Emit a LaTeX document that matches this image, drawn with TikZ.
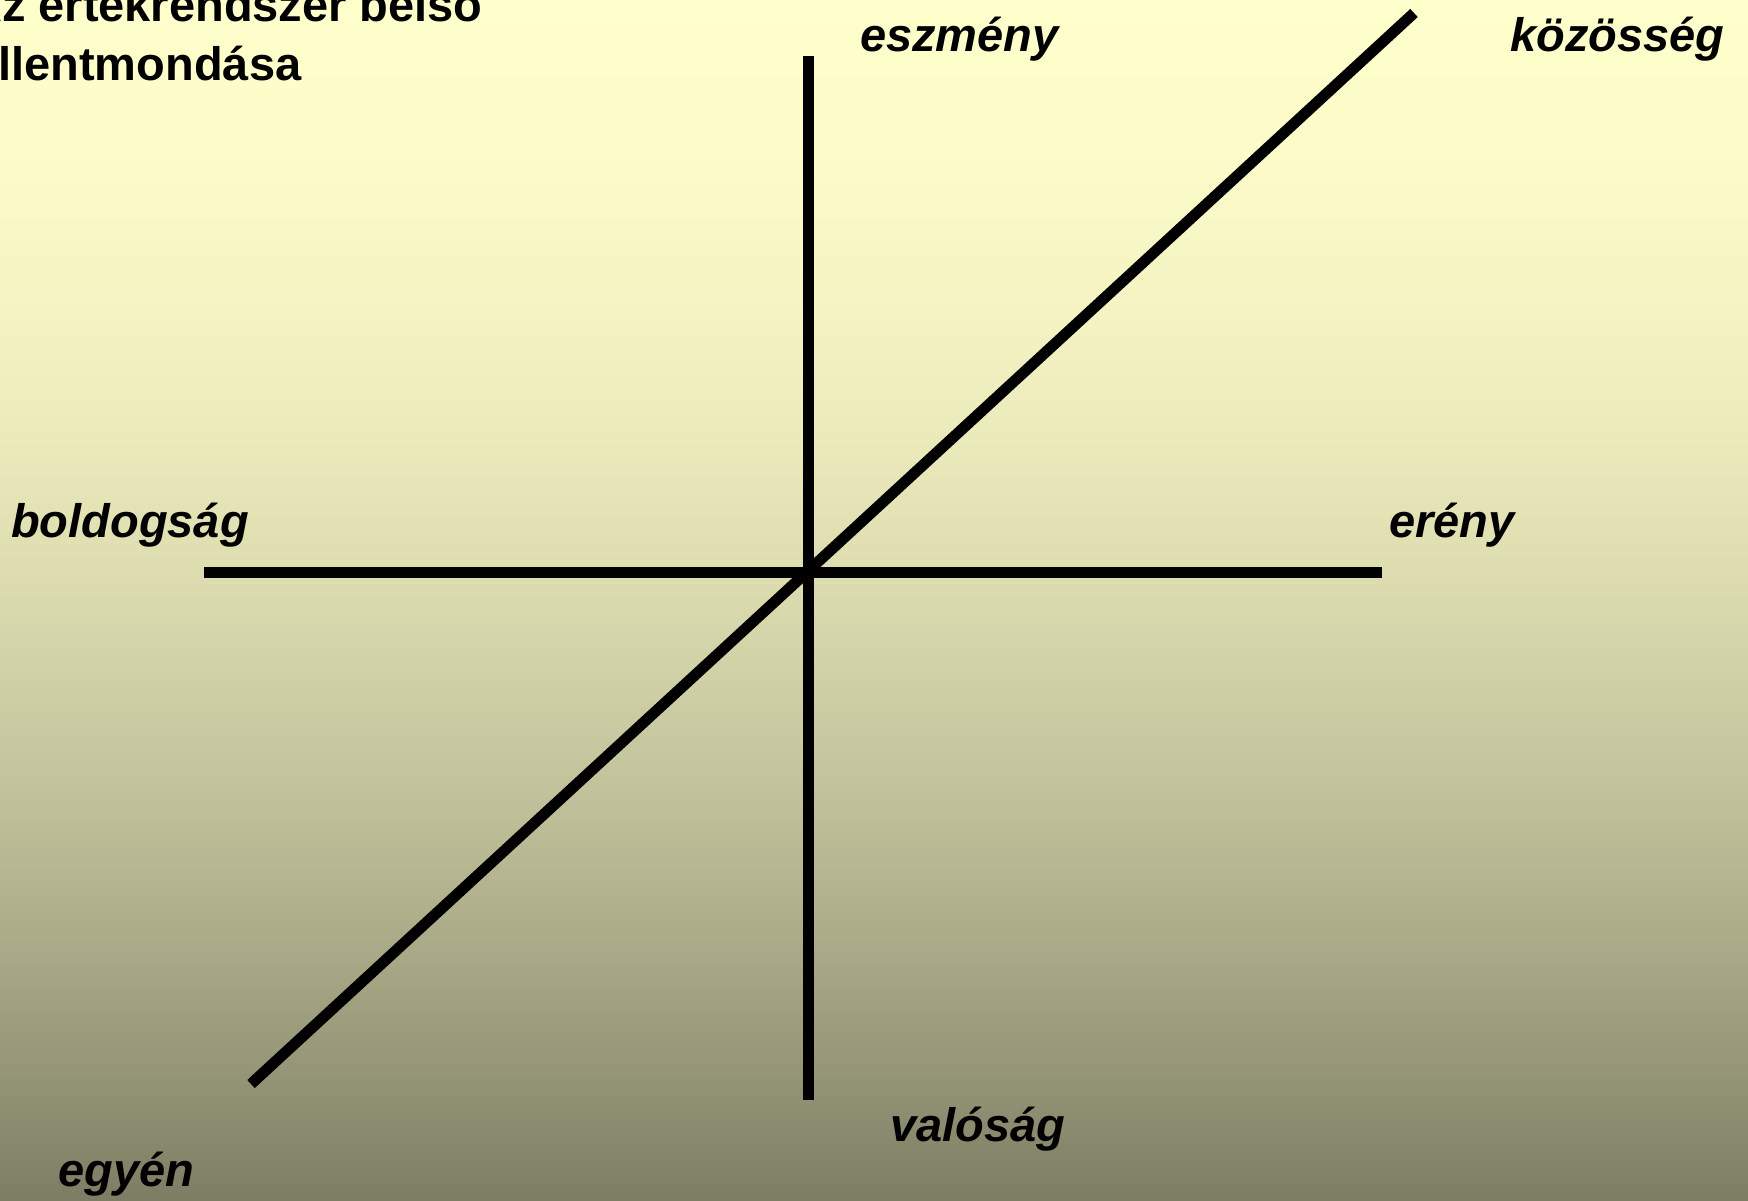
\documentclass[tikz,border=0pt]{standalone}
\usepackage{fontspec}
\setmainfont{Liberation Sans}
% the path's box maps onto 25bp..75bp of the shading
\pgfdeclareverticalshading{bgshade}{100bp}{%
rgb(0bp)=(0.490,0.490,0.392);
rgb(25bp)=(0.490,0.490,0.392);
rgb(31.25bp)=(0.599,0.599,0.479);
rgb(37.5bp)=(0.696,0.696,0.557);
rgb(43.75bp)=(0.781,0.781,0.625);
rgb(50bp)=(0.854,0.854,0.683);
rgb(56.25bp)=(0.913,0.913,0.730);
rgb(62.5bp)=(0.958,0.958,0.767);
rgb(68.75bp)=(0.988,0.988,0.790);
rgb(75bp)=(1,1,0.8);
rgb(100bp)=(1,1,0.8)}
\begin{document}
\begin{tikzpicture}[x=1pt,y=-1pt,
  axisline/.style={line width=11pt, black},
  lbl/.style={anchor=base west, inner sep=0pt, font=\fontsize{47}{56}\selectfont\bfseries\itshape},
  ttl/.style={anchor=base west, inner sep=0pt, font=\fontsize{47}{56}\selectfont\bfseries}]
\useasboundingbox (0,0) rectangle (1748,1201);
\clip (0,0) rectangle (1748,1201);
\shade[shading=bgshade] (0,0) rectangle (1748,1201);
% title (cut off at the left edge, as in the reference)
\node[ttl] (title1) at (-32,22) {Az értékrendszer belső};
\node[ttl] (title2) at (-28,81) {ellentmondása};
% axis end points
\coordinate (vtop) at (808,56);
\coordinate (vbot) at (808,1100);
\coordinate (hl) at (204,572);
\coordinate (hr) at (1382,572);
\coordinate (dl) at (251,1084);
\coordinate (dr) at (1414,13);
\draw[axisline] (vtop) -- (vbot);
\draw[axisline] (hl) -- (hr);
\draw[axisline] (dl) -- (dr);
% labels
\node[lbl] (eszmeny) at (860,52) {eszmény};
\node[lbl] (kozosseg) at (1510,52) {közösség};
\node[lbl] (boldogsag) at (11,537) {boldogság};
\node[lbl] (ereny) at (1389,537) {erény};
\node[lbl] (valosag) at (890,1141) {valóság};
\node[lbl] (egyen) at (58,1186) {egyén};
\end{tikzpicture}
\end{document}
